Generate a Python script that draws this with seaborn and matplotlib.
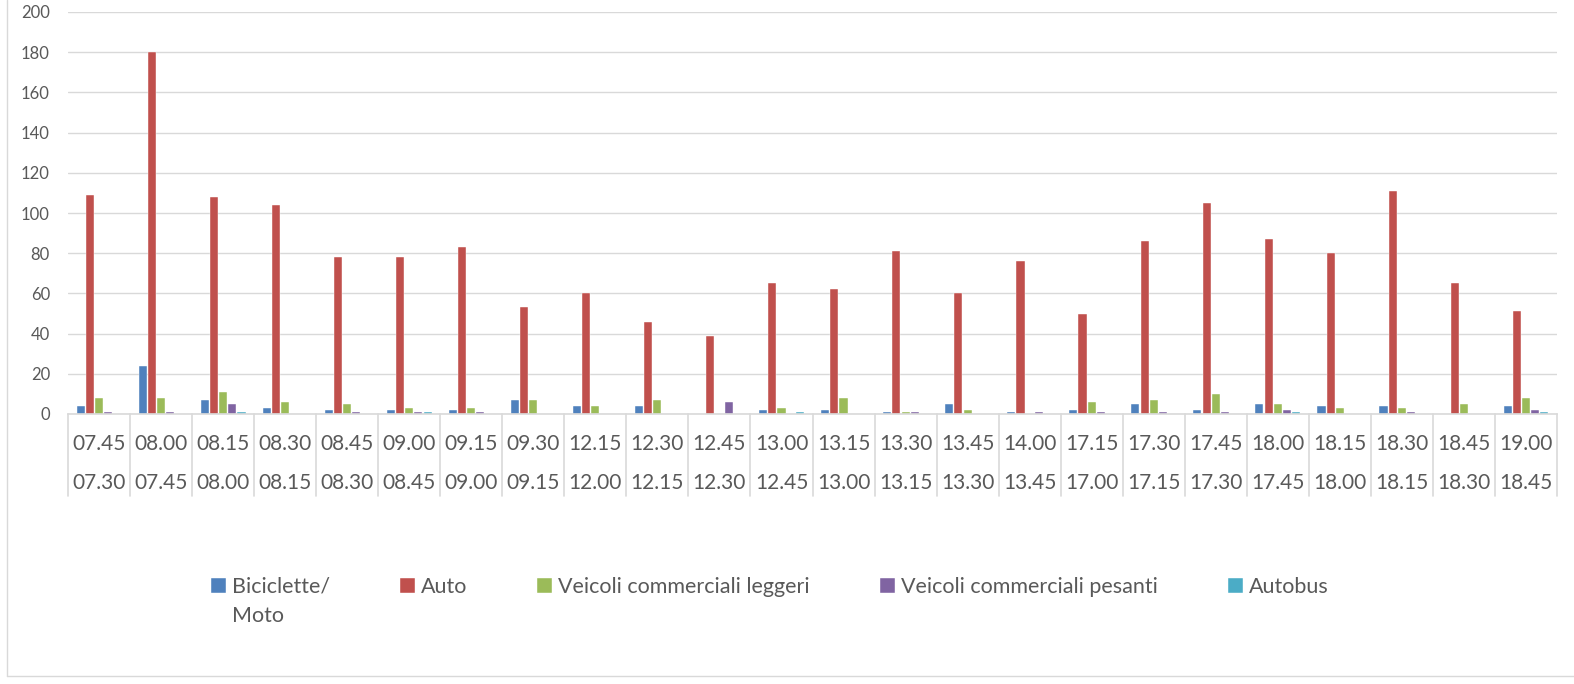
import pandas as pd
import matplotlib
matplotlib.use('Agg')
import matplotlib.pyplot as plt
from matplotlib.lines import Line2D
import seaborn as sns

# fasce orarie (riga superiore = fine, riga inferiore = inizio)
fine = ['07.45', '08.00', '08.15', '08.30', '08.45', '09.00', '09.15', '09.30',
        '12.15', '12.30', '12.45', '13.00', '13.15', '13.30', '13.45', '14.00',
        '17.15', '17.30', '17.45', '18.00', '18.15', '18.30', '18.45', '19.00']
inizio = ['07.30', '07.45', '08.00', '08.15', '08.30', '08.45', '09.00', '09.15',
          '12.00', '12.15', '12.30', '12.45', '13.00', '13.15', '13.30', '13.45',
          '17.00', '17.15', '17.30', '17.45', '18.00', '18.15', '18.30', '18.45']

bici_moto = [4, 24, 7, 3, 2, 2, 2, 7, 4, 4, 0, 2, 2, 1, 5, 1, 2, 5, 2, 5, 4, 4, 0, 4]
auto = [109, 180, 108, 104, 78, 78, 83, 53, 60, 46, 39, 65, 62, 81, 60, 76, 50, 86, 105, 87, 80, 111, 65, 51]
comm_leggeri = [8, 8, 11, 6, 5, 3, 3, 7, 4, 7, 0, 3, 8, 1, 2, 0, 6, 7, 10, 5, 3, 3, 5, 8]
comm_pesanti = [1, 1, 5, 0, 1, 1, 1, 0, 0, 0, 6, 0, 0, 1, 0, 1, 1, 1, 1, 2, 0, 1, 0, 2]
autobus = [0, 0, 1, 0, 0, 1, 0, 0, 0, 0, 0, 1, 0, 0, 0, 0, 0, 0, 0, 1, 0, 0, 0, 1]

serie = ['Biciclette/', 'Auto', 'Veicoli commerciali leggeri',
         'Veicoli commerciali pesanti', 'Autobus']
colori = ['#4F81BD', '#C0504D', '#9BBB59', '#8064A2', '#4BACC6']

sns.set_style('white')
plt.rcParams['font.family'] = ['Lato', 'DejaVu Sans']

slot = [f + '|' + i for f, i in zip(fine, inizio)]
df = pd.DataFrame({'slot': slot * 5,
                   'tipo': sum([[s] * len(slot) for s in serie], []),
                   'valore': bici_moto + auto + comm_leggeri + comm_pesanti + autobus})

fig = plt.figure(figsize=(15.74, 6.84), dpi=100)
ax = fig.add_axes([68 / 1574, 270 / 684, 1489 / 1574, 402 / 684])

sns.barplot(data=df, x='slot', y='valore', hue='tipo', order=slot, hue_order=serie,
            palette=colori, saturation=1, width=0.74, gap=0.12, edgecolor='white',
            linewidth=0.3, ax=ax, legend=True)

ax.set_xlim(-0.5, len(slot) - 0.5)
ax.set_ylim(0, 200)
ax.set_yticks(range(0, 201, 20))
ax.yaxis.grid(True, color='#D9D9D9', linewidth=1)
ax.set_axisbelow(True)
for s in ['top', 'right', 'left']:
    ax.spines[s].set_visible(False)
ax.spines['bottom'].set_color('#D9D9D9')
ax.spines['bottom'].set_linewidth(1.2)
ax.tick_params(axis='y', length=0, pad=13, labelsize=12, labelcolor='#595959')
ax.set_xticks([])
ax.set_xlabel('')
ax.set_ylabel('')

# etichette su due righe e separatori
tr = ax.get_xaxis_transform()
for k in range(len(slot)):
    ax.text(k, -0.075, fine[k], transform=tr, ha='center', va='center',
            fontsize=15, color='#595959')
    ax.text(k, -0.172, inizio[k], transform=tr, ha='center', va='center',
            fontsize=15, color='#595959')
for k in range(len(slot) + 1):
    ax.plot([k - 0.5, k - 0.5], [0, -0.204], transform=tr, color='#D9D9D9',
            linewidth=1.2, clip_on=False)

handles, labels = ax.get_legend_handles_labels()
ax.get_legend().remove()
leg = fig.legend(handles, labels, loc='upper left', bbox_to_anchor=(200 / 1574, 1 - 566 / 684),
                 ncol=5, frameon=False, fontsize=15.5, handlelength=0.7, handleheight=0.7,
                 handletextpad=0.28, columnspacing=3.25, borderpad=0, labelcolor='#595959')

fig.canvas.draw()
bb = leg.get_texts()[0].get_window_extent()
fig.text(bb.x0 / 1574, (bb.y0 - 29) / 684, 'Moto', ha='left', va='bottom',
         fontsize=15.5, color='#595959')

# bordo del grafico
fig.add_artist(Line2D([7 / 1574, 7 / 1574], [1, 1 - 676 / 684], color='#D9D9D9', linewidth=1))
fig.add_artist(Line2D([7 / 1574, 1], [1 - 676 / 684, 1 - 676 / 684], color='#D9D9D9', linewidth=1))

fig.savefig('out.png', dpi=100)
